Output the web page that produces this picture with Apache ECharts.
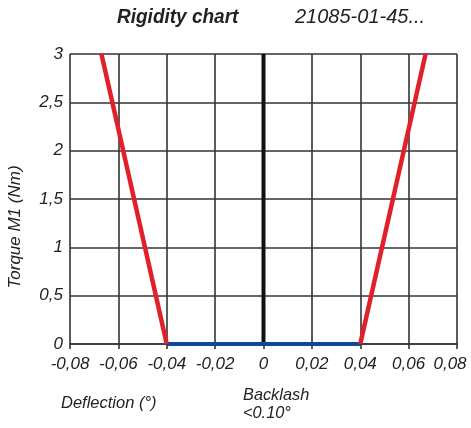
<!DOCTYPE html>
<html>
<head>
<meta charset="utf-8">
<script src="https://cdn.jsdelivr.net/npm/echarts@6/dist/echarts.min.js"></script>
<style>html,body{margin:0;padding:0;background:#fff}#c{width:471px;height:428px}</style>
</head>
<body>
<div id="c"></div>
<script>
var titleText = "Rigidity chart";
var subtitleText = "21085-01-45...";
var xAxisName = "Deflection (°)";
var yAxisName = "Torque M1 (Nm)";
var backlashText = ["Backlash", "<0.10°"];

var xMin = -0.08, xMax = 0.08, xStep = 0.02;
var yMin = 0, yMax = 3, yStep = 0.5;

var leftStiffness = [[-0.04, 0], [-0.067, 3]];
var rightStiffness = [[0.04, 0], [0.067, 3]];
var backlashLine = [[-0.04, 0], [0.04, 0]];
var zeroLine = [[0, 0], [0, 3]];

var FONT = "'Liberation Sans', Arial, sans-serif";
var fmt = function (v) { return (Math.round(v * 1000) / 1000).toString().replace('.', ','); };
var xfmt = function (v) {
  var s = fmt(v);
  if (Math.abs(v - xMax) < 1e-9) return '{edge|' + s + '}';
  return s;
};

var chart = echarts.init(document.getElementById('c'));
chart.setOption({
  animation: false,
  backgroundColor: '#fff',
  grid: { left: 70, right: 14, top: 54, bottom: 84, containLabel: false, outerBoundsMode: 'none' },
  xAxis: {
    type: 'value', min: xMin, max: xMax, interval: xStep,
    axisLine: { show: true, onZero: false, lineStyle: { color: '#333', width: 1.6 } },
    axisTick: { show: true, length: 5, inside: false, lineStyle: { color: '#333', width: 1.6 } },
    splitLine: { show: true, lineStyle: { color: '#333', width: 1.6 } },
    axisLabel: {
      formatter: xfmt, color: '#222', fontSize: 17, fontStyle: 'italic', fontFamily: FONT, margin: 12,
      showMinLabel: true, showMaxLabel: true, hideOverlap: false,
      rich: { edge: { fontSize: 17, fontStyle: 'italic', fontFamily: FONT, color: '#222', padding: [0, 14, 0, 0] } }
    }
  },
  yAxis: {
    type: 'value', min: yMin, max: yMax, interval: yStep,
    axisLine: { show: true, lineStyle: { color: '#333', width: 1.6 } },
    axisTick: { show: false },
    splitLine: { show: true, lineStyle: { color: '#333', width: 1.6 } },
    axisLabel: { formatter: fmt, color: '#222', fontSize: 17, fontStyle: 'italic', fontFamily: FONT, margin: 7 }
  },
  series: [
    { type: 'line', data: zeroLine, symbol: 'none', lineStyle: { color: '#111', width: 4 }, z: 3 },
    { type: 'line', data: backlashLine, symbol: 'none', lineStyle: { color: '#0c4a96', width: 4 }, z: 4 },
    { type: 'line', data: leftStiffness, symbol: 'none', lineStyle: { color: '#e0202a', width: 4.5 }, z: 5 },
    { type: 'line', data: rightStiffness, symbol: 'none', lineStyle: { color: '#e0202a', width: 4.5 }, z: 5 }
  ],
  graphic: [
    { type: 'text', x: 117, y: 7, scaleX: 0.95, style: { text: titleText, font: "italic bold 20px " + FONT, fill: '#222' } },
    { type: 'text', x: 295, y: 7, scaleX: 1.0, style: { text: subtitleText, font: "italic 20px " + FONT, fill: '#222' } },
    { type: 'text', x: 61, y: 395, scaleX: 0.97, style: { text: xAxisName, font: "italic 17px " + FONT, fill: '#222' } },
    { type: 'text', x: 243, y: 386, scaleX: 0.96, style: { text: backlashText.join('\n'), font: "italic 17px " + FONT, fill: '#222', lineHeight: 18 } },
    { type: 'text', x: 15, y: 227, rotation: Math.PI / 2, scaleX: 1.0, style: { text: yAxisName, font: "italic 17px " + FONT, fill: '#222', align: 'center', verticalAlign: 'middle' } }
  ]
});
</script>
</body>
</html>
